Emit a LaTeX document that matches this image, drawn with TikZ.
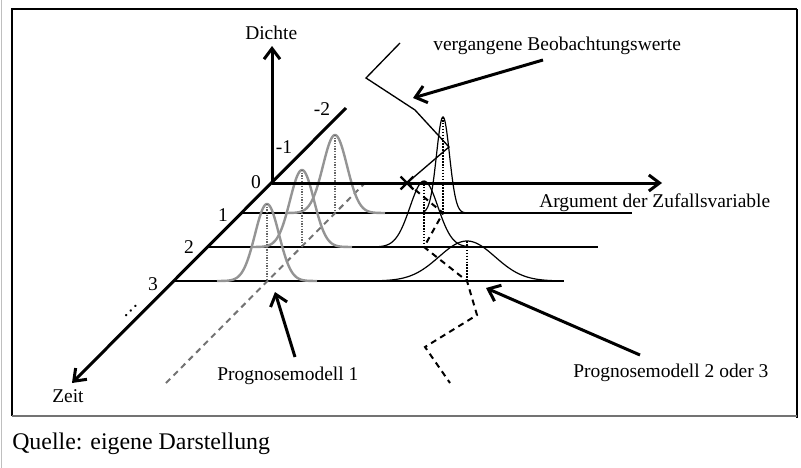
\documentclass[tikz,border=0pt]{standalone}
\usepackage{fontspec}
\setmainfont{Liberation Serif}
\usetikzlibrary{arrows.meta,shapes.misc}

\tikzset{
  achse/.style={line width=2.25pt, -{Straight Barb[length=8pt,width=12pt]}},
  zeiger/.style={line width=2.25pt, -{Straight Barb[length=8pt,width=13pt]}},
  zeile/.style={line width=1.1pt},
  grau/.style={line width=1.8pt, color=black!42},
  glocke/.style={line width=0.9pt},
  lot/.style={densely dotted, line width=1.2pt},
  graulot/.style={densely dotted, line width=1pt, color=black!60},
  pfad/.style={line width=1.5pt, dash pattern=on 4.5pt off 3.5pt},
  graupfad/.style={line width=1.5pt, color=black!55, dash pattern=on 4.5pt off 3.5pt},
  beschriftung/.style={font=\fontsize{14.6}{17}\selectfont, inner sep=0pt},
}

% Stil, Mitte x, Basis y, Hoehe, Sigma, von, bis
\newcommand{\dichtekurve}[7]{%
  \draw[#1] plot[domain=#6:#7, samples=90, smooth]
    ({#2+\x},{#3-#4*exp(-(\x*\x)/(2*#5*#5))});
}

\begin{document}
\begin{tikzpicture}[x=0.75pt,y=-0.75pt]
  \useasboundingbox (0,0) rectangle (801,468);

  % Rahmen
  \draw[black!25, line width=1.2pt] (1.5,0) -- (1.5,468);
  \draw[line width=0.8pt] (12,416) -- (12,9) -- (797,9);
  \draw[line width=1.6pt] (797,9) -- (797,418);
  \draw[black!55, line width=1.2pt] (12,416) -- (797,416);

  \coordinate (o)  at (272,183);
  \coordinate (d)  at (272,46);
  \coordinate (a)  at (662,183);
  \coordinate (t0) at (346,108);
  \coordinate (t1) at (72,383);
  \coordinate (s1) at (242,213);
  \coordinate (s2) at (208,247);
  \coordinate (s3) at (174,281);
  \coordinate (e1) at (632,213);
  \coordinate (e2) at (598,247);
  \coordinate (e3) at (564,281);

  \draw[zeile] (s1) -- (e1);
  \draw[zeile] (s2) -- (e2);
  \draw[zeile] (s3) -- (e3);

  \draw[graupfad] (166,383) -- (365,183);

  % Prognosemodell 1
  \dichtekurve{grau}{335}{213}{78}{12}{-50}{50}
  \dichtekurve{grau}{302}{247}{77}{12}{-50}{50}
  \dichtekurve{grau}{267}{281}{77}{12}{-50}{50}
  \draw[graulot] (335,135) -- (335,213);
  \draw[graulot] (302,170) -- (302,247);
  \draw[graulot] (267,204) -- (267,281);

  % Prognosemodell 2 oder 3
  \dichtekurve{glocke}{443}{213}{96}{6.5}{-20}{30}
  \dichtekurve{glocke}{424}{247}{66}{14}{-61}{63}
  \dichtekurve{glocke}{467}{281}{40}{28}{-89}{86}
  \draw[lot] (443,117) -- (443,213);
  \draw[lot] (424,181) -- (424,247);
  \draw[lot] (467,241) -- (467,281);

  \draw[achse] (o) -- (d);
  \draw[achse] (o) -- (a);
  \draw[achse] (t0) -- (t1);

  % Beobachtungen
  \node[cross out, draw, line width=1.6pt, minimum size=8pt, inner sep=0pt] (x) at (407,183) {};
  \coordinate (b1) at (400,43);
  \coordinate (b2) at (366,78);
  \coordinate (b3) at (415,110);
  \coordinate (b4) at (449,147);
  \draw[line width=1pt] (b1) -- (b2) -- (b3) -- (b4) -- (x.center);

  \coordinate (p1) at (443,213);
  \coordinate (p2) at (424,247);
  \coordinate (p3) at (467,281);
  \coordinate (p4) at (477,315);
  \coordinate (p5) at (425,347);
  \coordinate (p6) at (450,383);
  \draw[pfad] (x.center) -- (p1) -- (p2) -- (p3) -- (p4) -- (p5) -- (p6);

  \begin{scope}[every node/.style={beschriftung}]
    \node[anchor=base west] (dichte) at (245,39) {Dichte};
    \node[anchor=base west] (zeit) at (52,402) {Zeit};
    \node[anchor=base west] (arg) at (539,207) {Argument der Zufallsvariable};
    \node[anchor=base west] (verg) at (433,50) {vergangene Beobachtungswerte};
    \node[anchor=base west] (pm1) at (217,380) {Prognosemodell 1};
    \node[anchor=base west] (pm2) at (573,377) {Prognosemodell 2 oder 3};
    \node[anchor=base] (n0) at (256,188) {0};
    \node[anchor=base] (m1) at (284,153) {-1};
    \node[anchor=base] (m2) at (322,115) {-2};
    \node[anchor=base] (n1) at (223,221) {1};
    \node[anchor=base] (n2) at (189,253) {2};
    \node[anchor=base] (n3) at (153,290) {3};
    \node[rotate=45] (pkt) at (131,311) {…};
  \end{scope}

  \coordinate (v0) at (543,60);
  \coordinate (v1) at (413,98);
  \coordinate (q0) at (295,357);
  \coordinate (q1) at (275,292);
  \coordinate (r0) at (640,355);
  \coordinate (r1) at (486,288);
  \draw[zeiger] (v0) -- (v1);
  \draw[zeiger] (q0) -- (q1);
  \draw[zeiger] (r0) -- (r1);

  \node[anchor=base west, inner sep=0pt, font=\fontsize{17.9}{21}\selectfont] (quelle) at (12,449) {Quelle: eigene Darstellung};
\end{tikzpicture}
\end{document}
